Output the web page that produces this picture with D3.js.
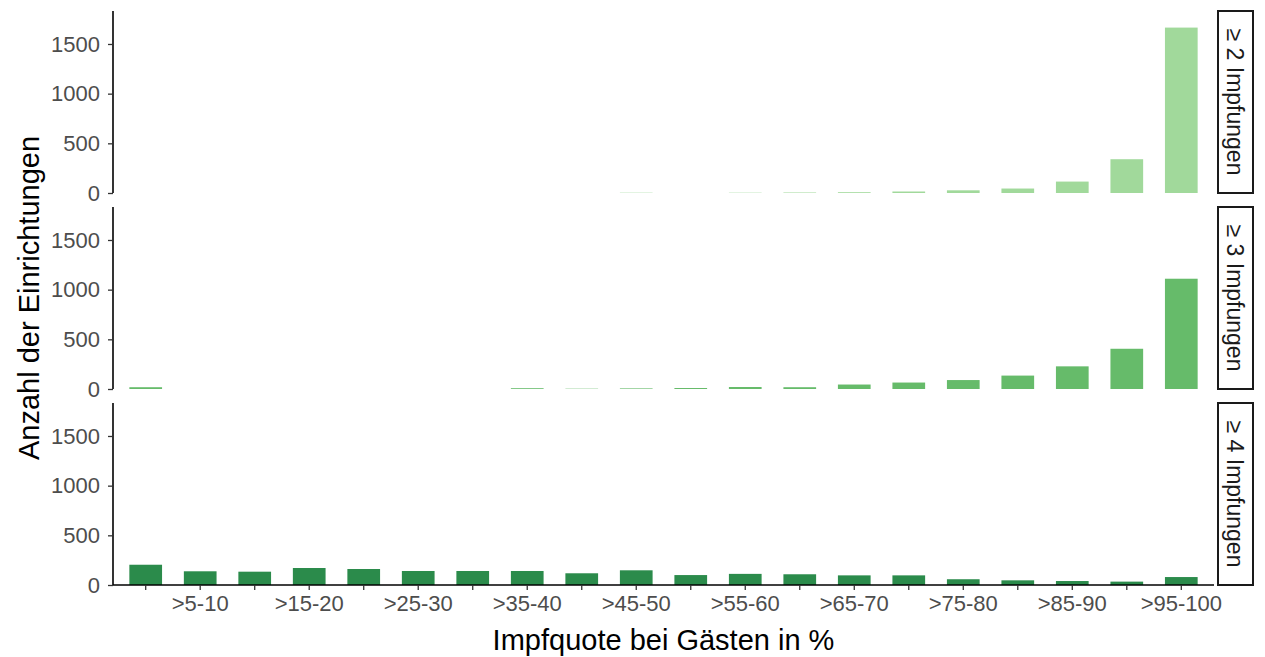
<!DOCTYPE html>
<html>
<head>
<meta charset="utf-8">
<script src="https://cdn.jsdelivr.net/npm/d3@7"></script>
<style>
    body { margin: 0; background: #fff; }
    svg { font-family: "Liberation Sans", Arial, sans-serif; }
</style>
</head>
<body>
<svg id="chart"></svg>
<script>
// categories on x
const quoteBins = ['0-5', '>5-10', '>10-15', '>15-20', '>20-25', '>25-30', '>30-35', '>35-40', '>40-45', '>45-50',
    '>50-55', '>55-60', '>60-65', '>65-70', '>70-75', '>75-80', '>80-85', '>85-90', '>90-95', '>95-100'];

// facet labels
const facetLabels = ['≥ 2 Impfungen', '≥ 3 Impfungen', '≥ 4 Impfungen'];

// counts per bin
const countsTwo = [0, 0, 0, 0, 0, 0, 0, 0, 0, 3, 0, 3, 5, 8, 15, 27, 45, 115, 340, 1665];
const countsThree = [18, 0, 0, 0, 0, 0, 0, 8, 3, 6, 10, 20, 18, 45, 65, 90, 135, 228, 405, 1110];
const countsFour = [204, 138, 134, 171, 161, 141, 141, 141, 118, 148, 100, 112, 108, 97, 97, 58, 47, 40, 34, 80];

const yTicks = [0, 500, 1000, 1500];

class FacetBars {

    constructor(_config) {
        this.config = {
            parentElement: _config.parentElement,
            containerWidth: 1265,
            containerHeight: 657,
            panelLeft: 113,
            panelRight: 1214,
            panelTops: [11, 207, 403],
            panelHeight: 182,
            stripWidth: 35,
            stripGap: 4,
            yMax: 1832,
            colours: ['#a1d99b', '#66bb6a', '#2b8b4b'],
            textGrey: '#4d4d4d',
            tickFont: '22px',
            stripFont: '23px',
            titleFont: '29px'
        };
        this.facets = [countsTwo, countsThree, countsFour];
        this.initVis();
    }

    initVis() {
        let vis = this;
        let cfg = vis.config;

        vis.svg = d3.select(cfg.parentElement)
            .attr('width', cfg.containerWidth)
            .attr('height', cfg.containerHeight);

        // ggplot style discrete axis: 0.6 units of padding on both ends
        vis.xScale = d3.scaleBand()
            .domain(quoteBins)
            .range([cfg.panelLeft, cfg.panelRight])
            .paddingInner(0.4)
            .paddingOuter(0.3);

        vis.yScale = d3.scaleLinear()
            .domain([0, cfg.yMax])
            .range([cfg.panelHeight, 0]);

        vis.facets.forEach((counts, f) => {
            let top = cfg.panelTops[f];
            let panel = vis.svg.append('g')
                .attr('class', 'panel')
                .attr('transform', `translate(0,${top})`);

            panel.selectAll('rect.bar')
                .data(counts.map((v, i) => ({ bin: quoteBins[i], value: v })))
                .join('rect')
                .attr('class', 'bar')
                .attr('x', d => vis.xScale(d.bin))
                .attr('width', vis.xScale.bandwidth())
                .attr('y', d => vis.yScale(d.value))
                .attr('height', d => cfg.panelHeight - vis.yScale(d.value))
                .attr('fill', cfg.colours[f]);

            let yAxisG = panel.append('g')
                .attr('transform', `translate(${cfg.panelLeft},0)`)
                .call(d3.axisLeft(vis.yScale)
                    .tickValues(yTicks)
                    .tickFormat(d3.format('d'))
                    .tickSize(5)
                    .tickPadding(8));

            yAxisG.select('.domain')
                .attr('d', `M0,0V${cfg.panelHeight}`)
                .attr('stroke', '#000')
                .attr('stroke-width', 1.6);
            yAxisG.selectAll('.tick line').attr('stroke', '#333').attr('stroke-width', 1.3);
            yAxisG.selectAll('.tick text')
                .attr('fill', cfg.textGrey)
                .attr('font-size', cfg.tickFont)
                .attr('font-family', '"Liberation Sans", Arial, sans-serif');

            // strip on the right
            let stripX = cfg.panelRight + cfg.stripGap;
            panel.append('rect')
                .attr('x', stripX)
                .attr('y', 0)
                .attr('width', cfg.stripWidth)
                .attr('height', cfg.panelHeight)
                .attr('fill', '#fff')
                .attr('stroke', '#1a1a1a')
                .attr('stroke-width', 2);

            panel.append('text')
                .attr('transform', `translate(${stripX + cfg.stripWidth / 2},${cfg.panelHeight / 2}) rotate(90)`)
                .attr('text-anchor', 'middle')
                .attr('dy', '0.35em')
                .attr('font-size', cfg.stripFont)
                .attr('fill', '#1a1a1a')
                .text(facetLabels[f]);

            // x axis only under the last panel
            if (f === vis.facets.length - 1) {
                let xAxisG = panel.append('g')
                    .attr('transform', `translate(0,${cfg.panelHeight})`)
                    .call(d3.axisBottom(vis.xScale)
                        .tickSize(5)
                        .tickPadding(5)
                        .tickFormat((d, i) => i % 2 === 1 ? d : ''));

                xAxisG.select('.domain')
                    .attr('d', `M${cfg.panelLeft},0H${cfg.panelRight}`)
                    .attr('stroke', '#000')
                    .attr('stroke-width', 1.6);
                xAxisG.selectAll('.tick line').attr('stroke', '#333').attr('stroke-width', 1.3);
                xAxisG.selectAll('.tick text')
                    .attr('fill', cfg.textGrey)
                    .attr('font-size', cfg.tickFont)
                    .attr('font-family', '"Liberation Sans", Arial, sans-serif');
            }
        });

        // axis titles
        let bottom = cfg.panelTops[2] + cfg.panelHeight;
        vis.svg.append('text')
            .attr('x', (cfg.panelLeft + cfg.panelRight) / 2)
            .attr('y', bottom + 65)
            .attr('text-anchor', 'middle')
            .attr('font-size', cfg.titleFont)
            .attr('fill', '#000')
            .text('Impfquote bei Gästen in %');

        vis.svg.append('text')
            .attr('transform', `translate(39,${(cfg.panelTops[0] + bottom) / 2}) rotate(-90)`)
            .attr('text-anchor', 'middle')
            .attr('font-size', cfg.titleFont)
            .attr('fill', '#000')
            .text('Anzahl der Einrichtungen');
    }
}

const bars = new FacetBars({ parentElement: '#chart' });
</script>
</body>
</html>
